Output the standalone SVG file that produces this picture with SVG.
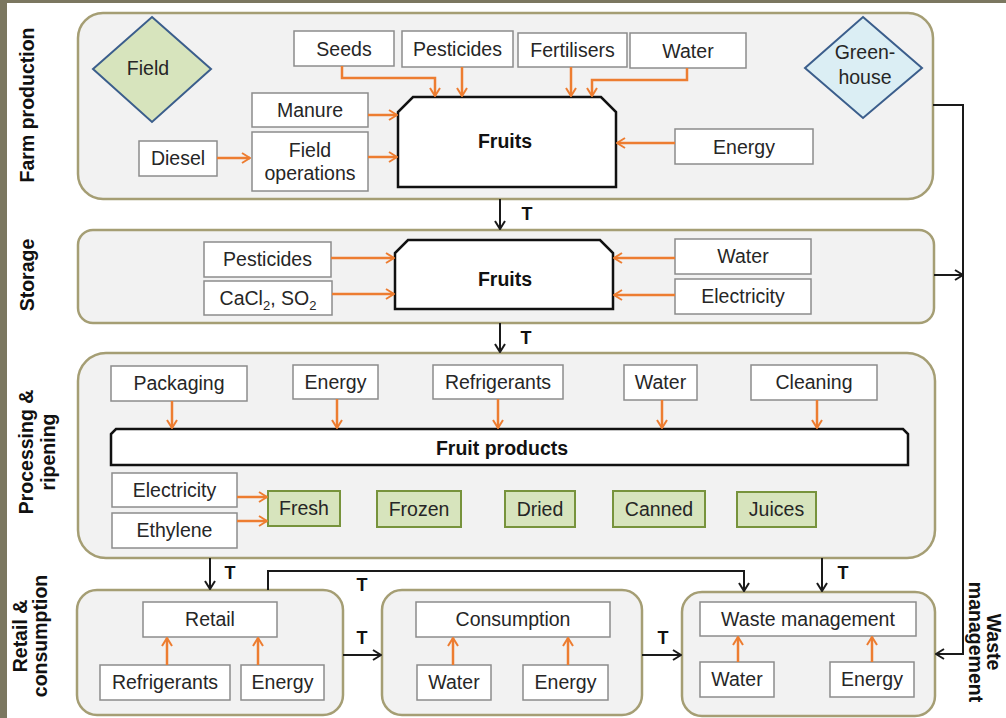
<svg xmlns="http://www.w3.org/2000/svg" width="1006" height="718" viewBox="0 0 1006 718">
<defs>
<style>
.panel{fill:#f2f2f2;stroke:#a59e74;stroke-width:2.5}
.box{fill:#fff;stroke:#8c8c8c;stroke-width:1.5}
.gbox{fill:#d7e4bd;stroke:#77933c;stroke-width:2}
.fruit{fill:#fff;stroke:#111;stroke-width:2.5}
.dia{stroke:#3b5e8c;stroke-width:2}
.t{font-family:"Liberation Sans",Arial,sans-serif;font-size:19.5px;fill:#262626;text-anchor:middle}
.b{font-weight:bold;fill:#111}
.lab{font-family:"Liberation Sans",Arial,sans-serif;font-size:19.5px;font-weight:bold;fill:#111;text-anchor:middle}
.tl{font-family:"Liberation Sans",Arial,sans-serif;font-size:18px;font-weight:bold;fill:#111;text-anchor:middle}
.o{fill:none;stroke:#ed7d31;stroke-width:2.5;marker-end:url(#ao)}
.k{fill:none;stroke:#1a1a1a;stroke-width:2}
.ka{fill:none;stroke:#1a1a1a;stroke-width:2;marker-end:url(#ak)}
</style>
<marker id="ao" viewBox="0 0 10 12" refX="9" refY="6" markerWidth="10" markerHeight="12" markerUnits="userSpaceOnUse" orient="auto">
<path d="M1,1 L9,6 L1,11" fill="none" stroke="#ed7d31" stroke-width="2"/>
</marker>
<marker id="ak" viewBox="0 0 10 12" refX="9" refY="6" markerWidth="10" markerHeight="12" markerUnits="userSpaceOnUse" orient="auto">
<path d="M1,1 L9,6 L1,11" fill="none" stroke="#1a1a1a" stroke-width="2"/>
</marker>
</defs>
<rect x="0" y="0" width="1006" height="718" fill="#fff"/>
<rect x="0" y="0" width="1006" height="3" fill="#7b7760"/>
<rect x="0" y="0" width="7" height="718" fill="#7b7760"/>

<g id="side-labels">
<text class="lab" transform="translate(34,105) rotate(-90)">Farm production</text>
<text class="lab" transform="translate(34,275) rotate(-90)">Storage</text>
<text class="lab" transform="translate(33,452) rotate(-90)">Processing &amp;</text>
<text class="lab" transform="translate(55,452) rotate(-90)">ripening</text>
<text class="lab" transform="translate(27,636) rotate(-90)">Retail &amp;</text>
<text class="lab" transform="translate(47,636) rotate(-90)">consumption</text>
<text class="lab" transform="translate(987,642) rotate(90)">Waste</text>
<text class="lab" transform="translate(969,642) rotate(90)">management</text>
</g>

<g id="panel-farm"><rect class="panel" x="78" y="13" width="855" height="186" rx="25"/></g>
<g id="panel-storage"><rect class="panel" x="78" y="230" width="856" height="93" rx="15"/></g>
<g id="panel-processing"><rect class="panel" x="78" y="353" width="857" height="205" rx="28"/></g>
<g id="panel-retail"><rect class="panel" x="77" y="590" width="266" height="125" rx="20"/></g>
<g id="panel-consumption"><rect class="panel" x="382" y="590" width="260" height="125" rx="20"/></g>
<g id="panel-waste"><rect class="panel" x="682" y="592" width="253" height="124" rx="20"/></g>

<g id="field"><polygon class="dia" fill="#d7e4bd" points="152,17 211,69 152,122 93,69"/><text class="t" x="148" y="75">Field</text></g>
<g id="greenhouse"><polygon class="dia" fill="#dbeef4" points="863,17 922,68 863,118 805,68"/><text class="t" x="865" y="59">Green-</text><text class="t" x="865" y="84">house</text></g>

<g id="f-seeds"><rect class="box" x="294" y="31" width="100" height="35"/><text class="t" x="344" y="56">Seeds</text></g>
<g id="f-pesticides"><rect class="box" x="402" y="31" width="111" height="36"/><text class="t" x="457.5" y="56">Pesticides</text></g>
<g id="f-fertilisers"><rect class="box" x="518" y="33" width="109" height="34"/><text class="t" x="572.5" y="57">Fertilisers</text></g>
<g id="f-water"><rect class="box" x="630" y="33" width="116" height="35"/><text class="t" x="688" y="57.5">Water</text></g>
<g id="f-manure"><rect class="box" x="252" y="93" width="116" height="34"/><text class="t" x="310" y="117">Manure</text></g>
<g id="f-fieldops"><rect class="box" x="252" y="132" width="116" height="59"/><text class="t" x="310" y="157">Field</text><text class="t" x="310" y="180">operations</text></g>
<g id="f-diesel"><rect class="box" x="139" y="141" width="78" height="35"/><text class="t" x="178" y="165">Diesel</text></g>
<g id="f-energy"><rect class="box" x="675" y="129" width="138" height="35"/><text class="t" x="744" y="154">Energy</text></g>
<g id="f-fruits"><polygon class="fruit" points="398,187 398,112 413,97 601,97 616,112 616,187"/><text class="t b" x="505" y="148">Fruits</text></g>

<g id="s-pesticides"><rect class="box" x="204" y="242" width="127" height="35"/><text class="t" x="267.5" y="266">Pesticides</text></g>
<g id="s-cacl"><rect class="box" x="204" y="281" width="128" height="34"/><text class="t" x="268" y="305">CaCl<tspan font-size="13" dy="5">2</tspan><tspan dy="-5">, SO</tspan><tspan font-size="13" dy="5">2</tspan></text></g>
<g id="s-water"><rect class="box" x="675" y="239" width="136" height="35"/><text class="t" x="743" y="263">Water</text></g>
<g id="s-electricity"><rect class="box" x="675" y="279" width="136" height="35"/><text class="t" x="743" y="303">Electricity</text></g>
<g id="s-fruits"><polygon class="fruit" points="395,309 395,253 408,240 600,240 613,253 613,309"/><text class="t b" x="505" y="286">Fruits</text></g>

<g id="p-packaging"><rect class="box" x="111" y="366" width="136" height="35"/><text class="t" x="179" y="390">Packaging</text></g>
<g id="p-energy"><rect class="box" x="293" y="365" width="85" height="34"/><text class="t" x="335.5" y="389">Energy</text></g>
<g id="p-refrigerants"><rect class="box" x="433" y="365" width="130" height="34"/><text class="t" x="498" y="389">Refrigerants</text></g>
<g id="p-water"><rect class="box" x="624" y="365" width="73" height="35"/><text class="t" x="660.5" y="389">Water</text></g>
<g id="p-cleaning"><rect class="box" x="751" y="365" width="126" height="35"/><text class="t" x="814" y="389">Cleaning</text></g>
<g id="p-fruitproducts"><path class="fruit" d="M111,465 V434 L116,429 H903 L908,434 V465 Z"/><text class="t b" x="502" y="455">Fruit products</text></g>
<g id="p-electricity"><rect class="box" x="112" y="473" width="125" height="34"/><text class="t" x="174.5" y="497">Electricity</text></g>
<g id="p-ethylene"><rect class="box" x="112" y="513" width="125" height="35"/><text class="t" x="174.5" y="537">Ethylene</text></g>
<g id="p-fresh"><rect class="gbox" x="268" y="491" width="72" height="35"/><text class="t" x="304" y="515">Fresh</text></g>
<g id="p-frozen"><rect class="gbox" x="377" y="491" width="84" height="36"/><text class="t" x="419" y="516">Frozen</text></g>
<g id="p-dried"><rect class="gbox" x="505" y="491" width="70" height="36"/><text class="t" x="540" y="516">Dried</text></g>
<g id="p-canned"><rect class="gbox" x="613" y="491" width="92" height="36"/><text class="t" x="659" y="516">Canned</text></g>
<g id="p-juices"><rect class="gbox" x="737" y="492" width="79" height="35"/><text class="t" x="776.5" y="516">Juices</text></g>

<g id="r-retail"><rect class="box" x="143" y="602" width="134" height="35"/><text class="t" x="210" y="626">Retail</text></g>
<g id="r-refrigerants"><rect class="box" x="100" y="665" width="130" height="35"/><text class="t" x="165" y="689">Refrigerants</text></g>
<g id="r-energy"><rect class="box" x="241" y="665" width="83" height="35"/><text class="t" x="282.5" y="689">Energy</text></g>
<g id="c-consumption"><rect class="box" x="416" y="602" width="194" height="35"/><text class="t" x="513" y="626">Consumption</text></g>
<g id="c-water"><rect class="box" x="417" y="665" width="74" height="35"/><text class="t" x="454" y="689">Water</text></g>
<g id="c-energy"><rect class="box" x="523" y="665" width="85" height="35"/><text class="t" x="565.5" y="689">Energy</text></g>
<g id="w-waste"><rect class="box" x="700" y="602" width="216" height="34"/><text class="t" x="808" y="626">Waste management</text></g>
<g id="w-water"><rect class="box" x="700" y="662" width="74" height="35"/><text class="t" x="737" y="686">Water</text></g>
<g id="w-energy"><rect class="box" x="830" y="662" width="84" height="35"/><text class="t" x="872" y="686">Energy</text></g>

<g id="connectors">
<path class="o" d="M342,66 V78 H435 V96"/>
<path class="o" d="M462,67 V96"/>
<path class="o" d="M571,67 V96"/>
<path class="o" d="M687,68 V80 H592 V96"/>
<path class="o" d="M368,115 H397"/>
<path class="o" d="M368,157 H397"/>
<path class="o" d="M217,158 H250"/>
<path class="o" d="M675,143 H617"/>
<path class="o" d="M331,258 H394"/>
<path class="o" d="M332,294 H394"/>
<path class="o" d="M675,258 H614"/>
<path class="o" d="M675,295 H614"/>
<path class="o" d="M172,401 V428"/>
<path class="o" d="M337,399 V428"/>
<path class="o" d="M498,399 V428"/>
<path class="o" d="M662,400 V428"/>
<path class="o" d="M817,400 V428"/>
<path class="o" d="M237,497 H267"/>
<path class="o" d="M237,521 H267"/>
<path class="o" d="M167,665 V638"/>
<path class="o" d="M258,665 V638"/>
<path class="o" d="M453,665 V638"/>
<path class="o" d="M568,665 V638"/>
<path class="o" d="M738,662 V637"/>
<path class="o" d="M872,662 V637"/>

<path class="ka" d="M500,199 V229"/>
<path class="ka" d="M500,323 V352"/>
<path class="ka" d="M933,105 H963 V654 H936"/>
<path class="ka" d="M934,275 H963"/>
<path class="ka" d="M210,558 V589"/>
<path class="ka" d="M268,590 V571 H744 V591"/>
<path class="ka" d="M822,558 V591"/>
<path class="ka" d="M343,655 H381"/>
<path class="ka" d="M642,655 H681"/>
<text class="tl" x="527" y="220">T</text>
<text class="tl" x="526" y="344">T</text>
<text class="tl" x="230" y="579">T</text>
<text class="tl" x="362" y="591">T</text>
<text class="tl" x="843" y="579">T</text>
<text class="tl" x="362" y="644">T</text>
<text class="tl" x="663" y="644">T</text>
</g>
</svg>
